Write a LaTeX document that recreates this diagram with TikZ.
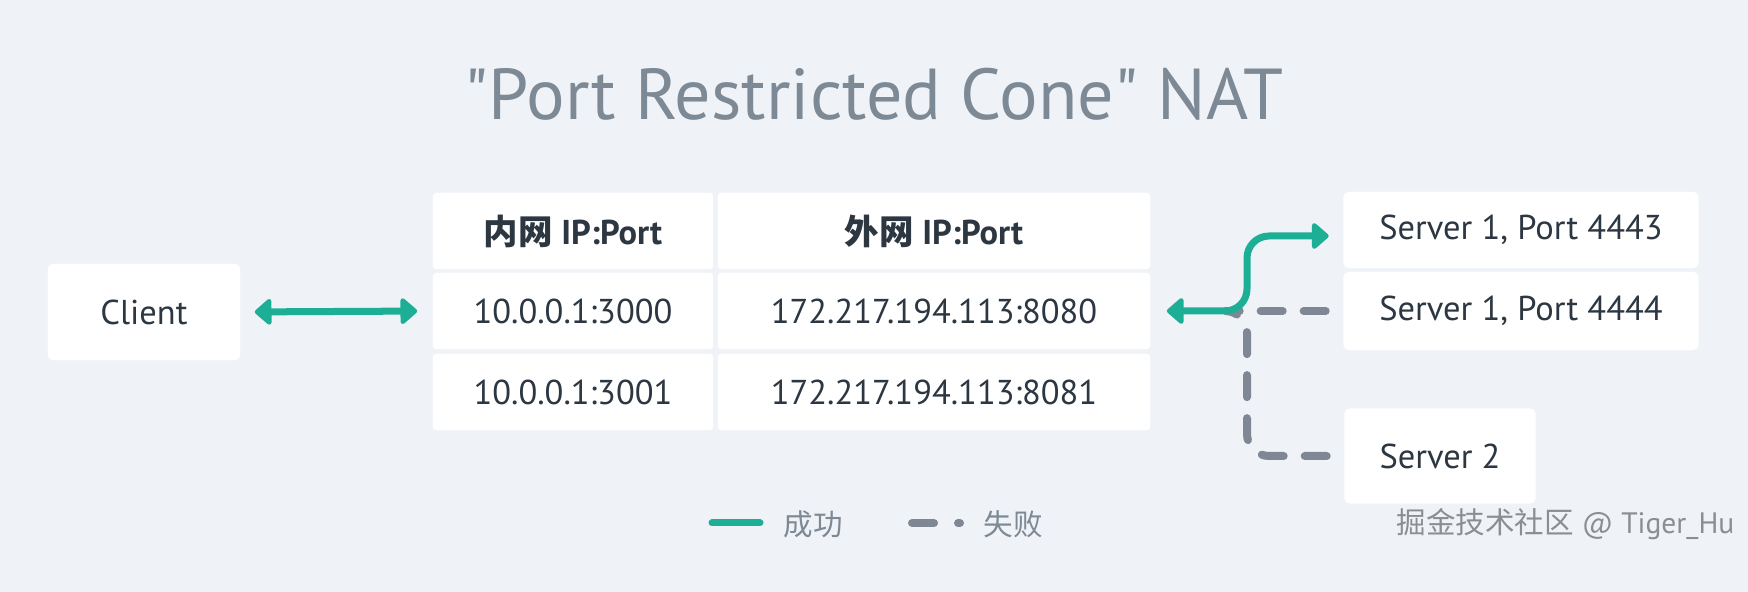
\documentclass[tikz,border=0pt]{standalone}
\usepackage{fontspec}
\setmainfont{PT Sans}
\newfontfamily\cjk{Noto Sans CJK SC}
\usetikzlibrary{arrows.meta, positioning}
\definecolor{bgcol}{HTML}{EFF3F7}
\definecolor{okgreen}{HTML}{1DAF96}
\definecolor{failgray}{HTML}{7E8793}
\definecolor{inkdark}{HTML}{2C3742}
\definecolor{titlegray}{HTML}{7D8995}
\definecolor{markgray}{HTML}{8A8E93}
\tikzset{
	every node/.style={
		font=\fontsize{9.8}{12}\selectfont,
		text=inkdark
	},
	cell/.style={
		shape=rectangle,
		fill=white,
		rounded corners=0.03cm,
		minimum height=0.76cm,
		inner sep=0pt
	},
	incell/.style={cell, minimum width=2.8cm},
	outcell/.style={cell, minimum width=4.32cm},
	headcell/.style={font=\fontsize{9.8}{12}\selectfont\bfseries},
	hostbox/.style={
		shape=rectangle,
		fill=white,
		rounded corners=0.05cm,
		inner sep=0pt
	},
	titletext/.style={
		font=\fontsize{20.5}{24}\selectfont,
		text=titlegray,
		anchor=base,
		inner sep=0pt
	},
	legendtext/.style={
		font=\fontsize{8.4}{10}\selectfont\cjk,
		text=titlegray,
		anchor=west,
		inner sep=0pt
	},
	okline/.style={
		draw=okgreen,
		line width=0.07cm,
		line cap=round
	},
	okarrow/.style={
		okline,
		{Triangle[length=0.18cm,width=0.3cm,round]}-{Triangle[length=0.18cm,width=0.3cm,round]}
	},
	failline/.style={
		draw=failgray,
		line width=0.08cm,
		line cap=round,
		dash pattern=on 0.22cm off 0.21cm
	}
}
\begin{document}
\begin{tikzpicture}[x=0.01cm, y=-0.01cm]
	\useasboundingbox[fill=bgcol] (0,0) rectangle (1748,592);
	
	\node[titletext] (title) at (874,120) {\textquotedbl Port Restricted Cone\textquotedbl{} NAT};
	
	% NAT table
	\node[incell, headcell] (hdrin) at (573,231) {{\cjk\bfseries 内网} IP:Port};
	\node[outcell, headcell] (hdrout) at (934,231) {{\cjk\bfseries 外网} IP:Port};
	\node[incell] (in1) at (573,311) {10.0.0.1:3000};
	\node[outcell] (out1) at (934,311) {172.217.194.113:8080};
	\node[incell] (in2) at (573,392) {10.0.0.1:3001};
	\node[outcell] (out2) at (934,392) {172.217.194.113:8081};
	
	% hosts
	\node[hostbox, minimum width=1.92cm, minimum height=0.96cm] (client) at (144,312) {Client};
	\node[hostbox, minimum width=3.55cm, minimum height=0.76cm] (srvA) at (1521,230) {Server 1, Port 4443};
	\node[hostbox, minimum width=3.55cm, minimum height=0.78cm] (srvB) at (1521,311) {Server 1, Port 4444};
	\node[hostbox, minimum width=1.91cm, minimum height=0.95cm] (srvC) at (1440,456) {Server 2};
	
	\coordinate (split) at (1226,311);
	\coordinate (bend) at (1247,0);
	\coordinate (srvAin) at ([yshift=-0.06cm]srvA.west);
	
	% failed paths
	\draw[failline, shorten <=0.17cm] (srvB.west) -- (split);
	\draw[failline, rounded corners=0.22cm, shorten <=0.17cm] (srvC.west) -| (bend |- split) -- (split);
	
	% successful paths
	\draw[okarrow, shorten <=0.14cm, shorten >=0.15cm] (client.east) -- (in1.west);
	\draw[okarrow, rounded corners=0.22cm, shorten <=0.16cm, shorten >=0.14cm]
		(out1.east) -| (bend |- srvAin) -- (srvAin);
	
	% legend
	\coordinate (okA) at (712,523);
	\coordinate (okB) at (760,523);
	\draw[okline] (okA) -- (okB);
	\node[legendtext] (oktext) at (783,524) {成功};
	\coordinate (failA) at (912,523);
	\coordinate (failB) at (960,523);
	\draw[failline, dash pattern=on 0.22cm off 0.24cm] (failA) -- (failB);
	\node[legendtext] (failtext) at (983,524) {失败};
	
	\node[legendtext, anchor=east, text=markgray, font=\fontsize{8.4}{10}\selectfont] (mark) at (1735,524) {{\cjk 掘金技术社区} @ Tiger\_Hu};
\end{tikzpicture}
\end{document}
